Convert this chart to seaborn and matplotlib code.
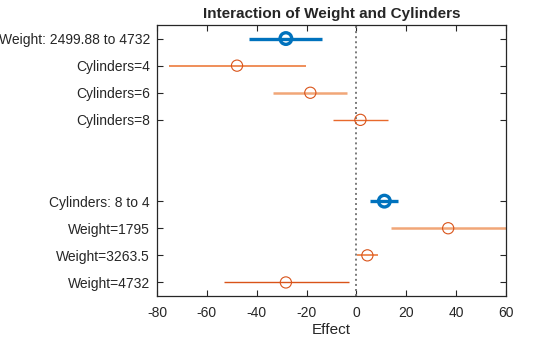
import matplotlib
matplotlib.use("Agg")
import matplotlib.pyplot as plt
import seaborn as sns
import pandas as pd

# Effect estimates with confidence bounds for each term
labels = ["Weight: 2499.88 to 4732", "Cylinders=4", "Cylinders=6", "Cylinders=8",
          "Cylinders: 8 to 4", "Weight=1795", "Weight=3263.5", "Weight=4732"]
effect = [-28.3, -47.9, -18.5, 1.6, 11.2, 36.8, 4.4, -28.3]
lower = [-43.1, -75.2, -33.3, -9.2, 5.6, 14.0, 0.1, -53.1]
upper = [-13.8, -20.2, -3.7, 12.5, 16.5, 61.0, 8.8, -3.0]
kind = ["main", "cond", "cond", "cond", "main", "cond", "cond", "cond"]

rows = [1, 2, 3, 4, 7, 8, 9, 10]
blue = "#0072BD"
line_colors = [blue, "#EC7B3D", "#F1A678", "#E8692C", blue, "#F1A678", "#EC7B3D", "#D95319"]
line_widths = [2.4, 1.2, 1.8, 1.0, 2.4, 1.8, 1.2, 1.0]

df = pd.DataFrame({"label": labels, "effect": effect, "lower": lower,
                   "upper": upper, "kind": kind, "row": rows})

sns.set_theme(style="white")
plt.rcParams["font.family"] = ["Liberation Sans", "DejaVu Sans"]
plt.rcParams["axes.unicode_minus"] = False
text_color = "#262626"

fig = plt.figure(figsize=(5.6, 3.37), dpi=100)
ax = fig.add_axes([157 / 560, 1 - 296 / 337, 349 / 560, 271 / 337])

ax.axvline(0, color="#7a7a7a", linestyle=(0, (1, 1.6)), linewidth=1.4, zorder=1)

for i, r in df.iterrows():
    ax.plot([r["lower"], r["upper"]], [r["row"], r["row"]],
            color=line_colors[i], linewidth=line_widths[i], solid_capstyle="butt", zorder=2)

main = df[df["kind"] == "main"]
cond = df[df["kind"] == "cond"]
sns.scatterplot(data=main, x="effect", y="row", ax=ax, marker="o", s=70,
                facecolor="none", edgecolor=blue, linewidth=2.4, zorder=3, legend=False)
sns.scatterplot(data=cond, x="effect", y="row", ax=ax, marker="o", s=65,
                facecolor="none", edgecolor="#D95319", linewidth=0.8, zorder=3, legend=False)

ax.set_xlim(-80, 60)
ax.set_ylim(10.5, 0.5)
ax.set_xticks(range(-80, 61, 20))
ax.set_yticks(rows)
ax.set_yticklabels(labels)
ax.set_xlabel("Effect", fontsize=11, color=text_color, labelpad=2)
ax.set_ylabel("")
ax.set_title("Interaction of Weight and Cylinders", fontsize=11, fontweight="bold",
             color=text_color, pad=5)

ax.tick_params(axis="both", which="both", direction="in", length=4, width=0.8,
               color=text_color, labelsize=10, labelcolor=text_color,
               top=True, right=True, left=True, bottom=True)
ax.tick_params(axis="x", pad=7)
ax.tick_params(axis="y", pad=5)
for sp in ax.spines.values():
    sp.set_visible(True)
    sp.set_color(text_color)
    sp.set_linewidth(0.9)

fig.savefig("out.png", dpi=100)
